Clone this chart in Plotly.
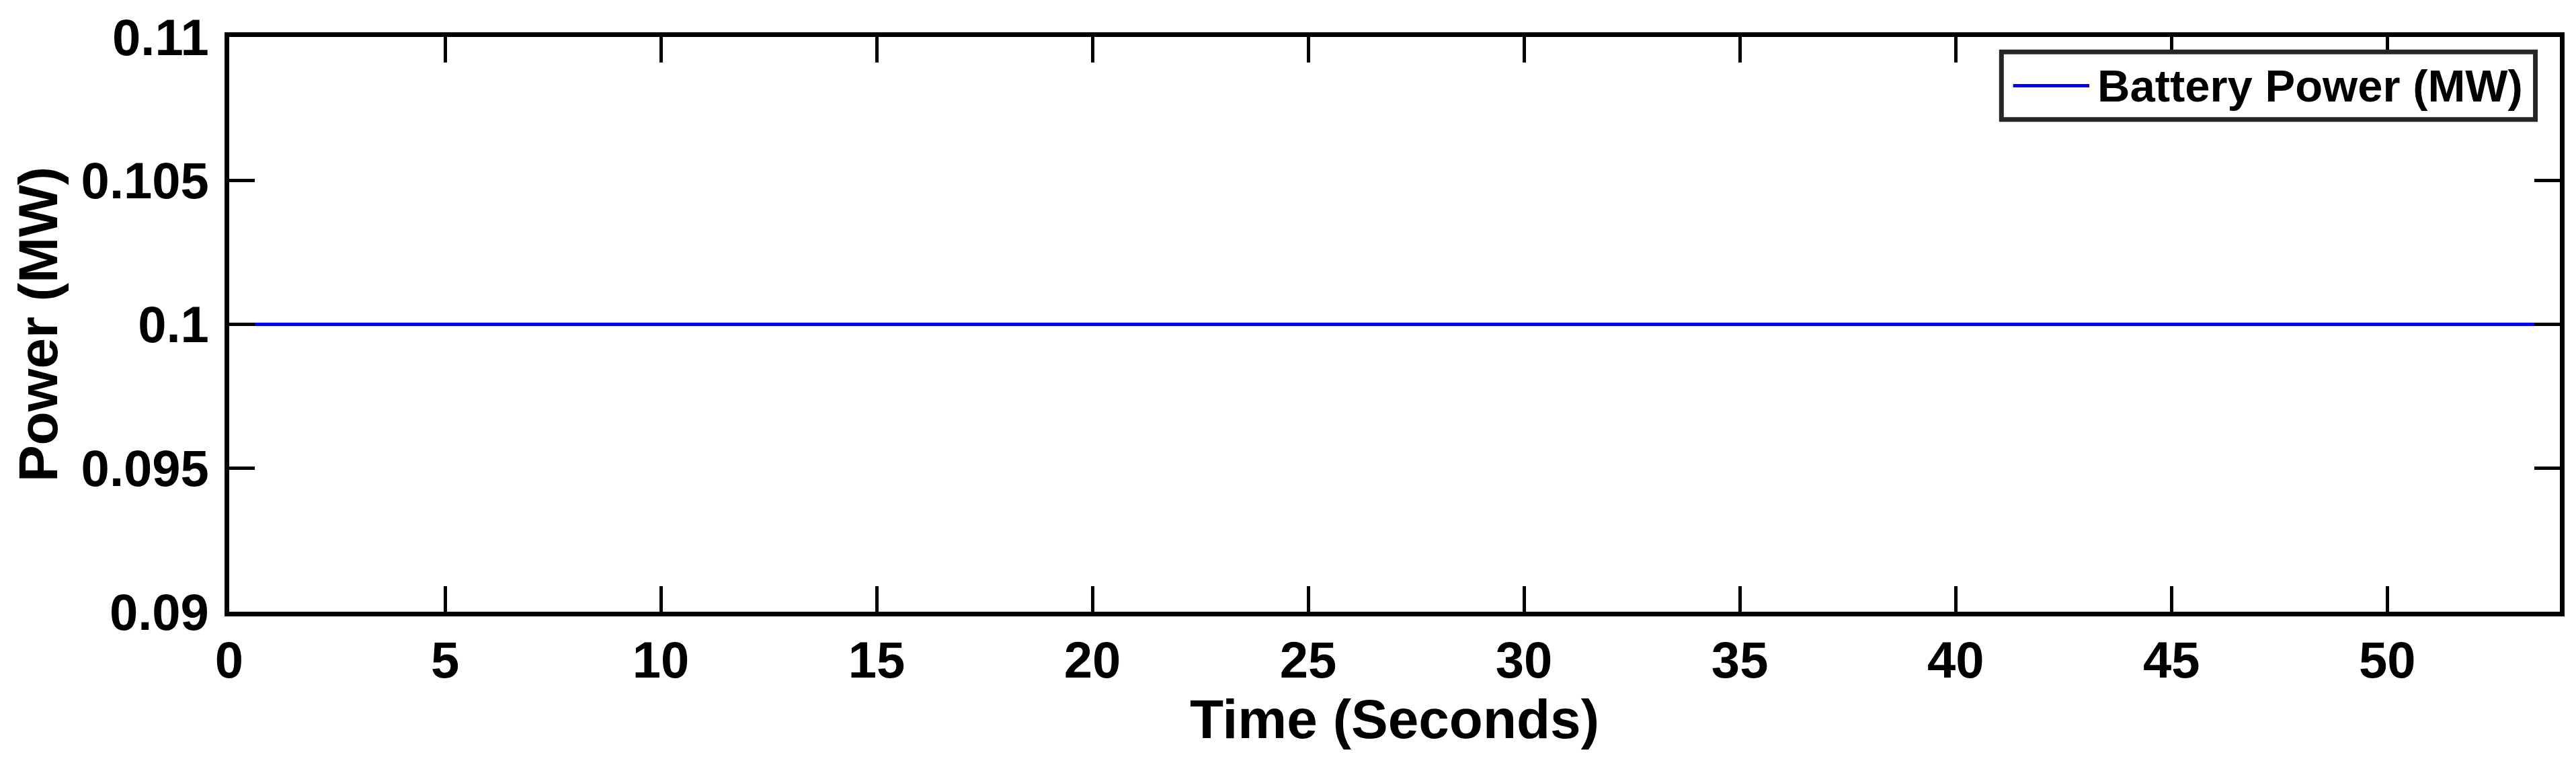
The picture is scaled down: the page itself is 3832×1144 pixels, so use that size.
import plotly.graph_objects as go

# data
time_s = [0, 54]
battery_power_mw = [0.1, 0.1]

x_ticks = [0, 5, 10, 15, 20, 25, 30, 35, 40, 45, 50]
y_ticks = [0.09, 0.095, 0.1, 0.105, 0.11]
y_tick_labels = ["0.09", "0.095", "0.1", "0.105", "0.11"]

FONT = "Liberation Sans, Arial, sans-serif"

fig = go.Figure()
fig.add_trace(
    go.Scatter(
        x=time_s,
        y=battery_power_mw,
        mode="lines",
        name="Battery Power (MW)",
        line=dict(color="#0000FF", width=5),
        showlegend=False,
    )
)

# legend box drawn by hand so the sample line is as long as in the original
fig.add_shape(
    type="rect", xref="paper", yref="paper",
    x0=0.7604, x1=0.9895, y0=0.8563, y1=0.9740,
    line=dict(color="#262626", width=7), fillcolor="white", layer="above",
)
fig.add_shape(
    type="line", xref="paper", yref="paper",
    x0=0.7654, x1=0.7981, y0=0.9152, y1=0.9152,
    line=dict(color="#0000FF", width=5), layer="above",
)
fig.add_annotation(
    xref="paper", yref="paper", x=0.8011, y=0.9152,
    xanchor="left", yanchor="middle", showarrow=False,
    text="Battery Power (MW)",
    font=dict(family=FONT, size=67, color="black", weight="bold"),
)

axis_common = dict(
    showline=True,
    linecolor="black",
    linewidth=7,
    mirror="ticks",
    ticks="inside",
    ticklen=38,
    tickwidth=5,
    tickcolor="black",
    showgrid=False,
    zeroline=False,
    tickfont=dict(family=FONT, size=76, color="black", weight="bold"),
)

fig.update_xaxes(
    range=[0, 54],
    tickvals=x_ticks,
    title=dict(text="Time (Seconds)", font=dict(family=FONT, size=82, color="black", weight="bold"), standoff=10),
    **axis_common,
)
fig.update_yaxes(
    range=[0.09, 0.11],
    tickvals=y_ticks,
    ticktext=y_tick_labels,
    ticklabelstandoff=8,
    title=dict(text="Power (MW)", font=dict(family=FONT, size=82, color="black", weight="bold"), standoff=10),
    **axis_common,
)

fig.update_layout(
    width=3832,
    height=1144,
    margin=dict(l=333, r=32, t=47, b=242, autoexpand=False),
    plot_bgcolor="white",
    paper_bgcolor="white",
)

fig.write_html("out.html")
